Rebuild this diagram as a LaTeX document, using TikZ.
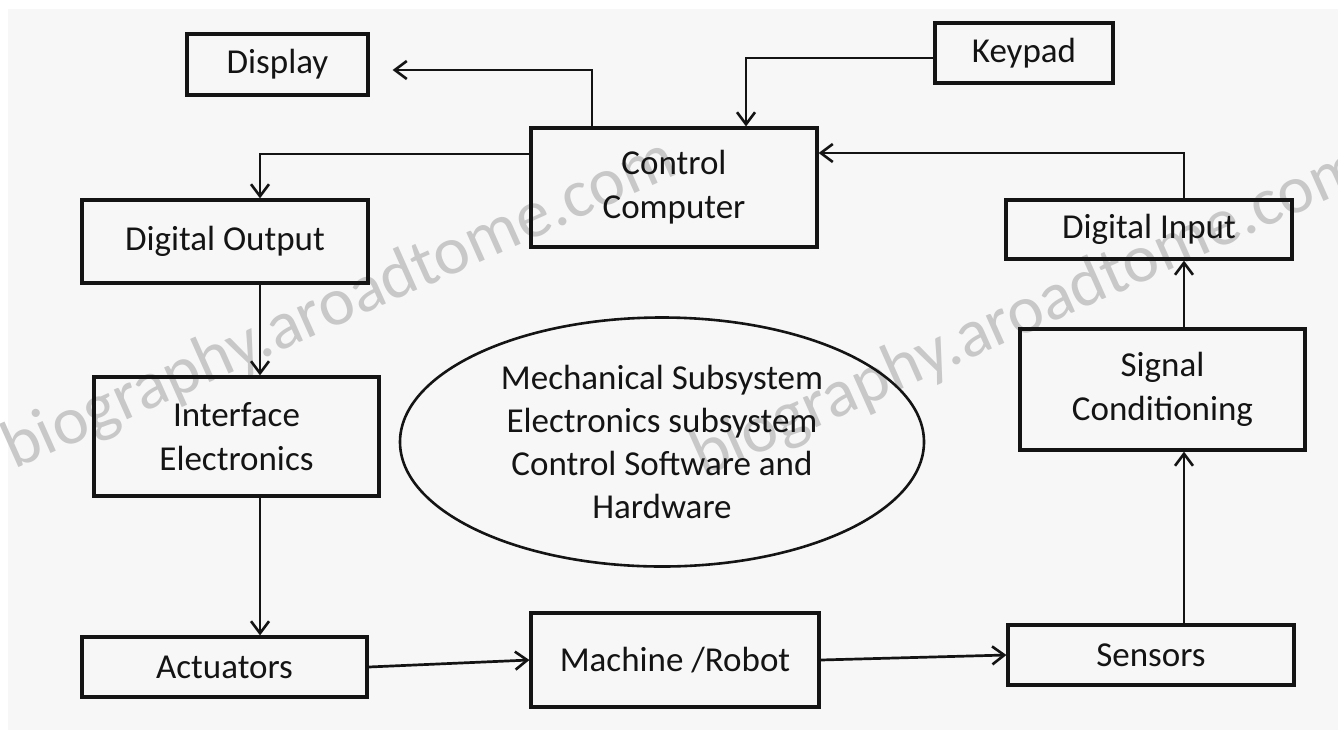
\documentclass[tikz,border=0pt]{standalone}
\usepackage{fontspec}
\setmainfont{Carlito}
\usetikzlibrary{arrows.meta,shapes.geometric}
\definecolor{bgc}{RGB}{247,247,247}
\definecolor{wmc}{RGB}{200,200,200}
\definecolor{ink}{RGB}{20,20,20}
\begin{document}
\begin{tikzpicture}[x=1pt,y=-1pt,
  box/.style={draw=ink, line width=3.2pt, inner sep=0pt, align=center,
    font=\fontsize{35}{44}\selectfont, text=ink},
  oval/.style={ellipse, draw=ink, line width=2.6pt, inner sep=0pt, align=center,
    font=\fontsize{35}{43}\selectfont, text=ink},
  conn/.style={draw=ink, line width=2.7pt,
    -{Straight Barb[length=12pt,width=18pt,line width=2.6pt]}},
  wmark/.style={text=wmc, font=\fontsize{68}{68}\selectfont, rotate=24, anchor=base west, inner sep=0pt}
]
\useasboundingbox (0,0) rectangle (1338,740);
\fill[white] (0,0) rectangle (1338,740);
\fill[bgc] (8,9) rectangle (1338,730);

% watermark
\node[wmark] (wm1) at (14,470) {biography.aroadtome.com};
\node[wmark] (wm2) at (703,478) {biography.aroadtome.com};

% boxes
\node[box, minimum width=181pt, minimum height=61pt] (display) at (277.5,64.5) {Display};
\node[box, minimum width=178pt, minimum height=60pt] (keypad) at (1024,53) {Keypad};
\node[box, minimum width=286pt, minimum height=119pt] (cc) at (674,187.5) {Control\\Computer};
\node[box, minimum width=286pt, minimum height=83pt] (dout) at (225,241.5) {Digital Output};
\node[box, minimum width=286pt, minimum height=59pt] (din) at (1149,229.5) {Digital Input};
\node[box, minimum width=285pt, minimum height=119pt] (iface) at (236.5,436.5) {Interface\\Electronics};
\node[box, minimum width=285pt, minimum height=121pt] (sigc) at (1162.5,389.5) {Signal\\Conditioning};
\node[box, minimum width=285pt, minimum height=60pt] (act) at (224.5,667) {Actuators};
\node[box, minimum width=288pt, minimum height=94pt] (mach) at (675,660) {Machine /Robot};
\node[box, minimum width=286pt, minimum height=60pt] (sens) at (1151,655) {Sensors};
\node[oval, minimum width=524pt, minimum height=249pt] (sys) at (662,442)
  {Mechanical Subsystem\\Electronics subsystem\\Control Software and\\Hardware};

% routing points
\coordinate (d1) at (592,70);
\coordinate (k1) at (746,58);
\coordinate (o1) at (260,154);
\coordinate (i1) at (1184,153);

% connectors
\draw[conn, shorten >=23pt] (d1 |- cc.north) -- (d1) -- (display.east |- d1);
\draw[conn] (keypad.west |- k1) -- (k1) -- (k1 |- cc.north);
\draw[conn] (cc.west |- o1) -- (o1) -- (o1 |- dout.north);
\draw[conn] (o1 |- dout.south) -- (o1 |- iface.north);
\draw[conn] (o1 |- iface.south) -- (o1 |- act.north);
\draw[conn] (act.east) -- (mach.west);
\draw[conn] (mach.east) -- (sens.west);
\draw[conn] (i1 |- sens.north) -- (i1 |- sigc.south);
\draw[conn] (i1 |- sigc.north) -- (i1 |- din.south);
\draw[conn] (i1 |- din.north) -- (i1) -- (cc.east |- i1);
\end{tikzpicture}
\end{document}
